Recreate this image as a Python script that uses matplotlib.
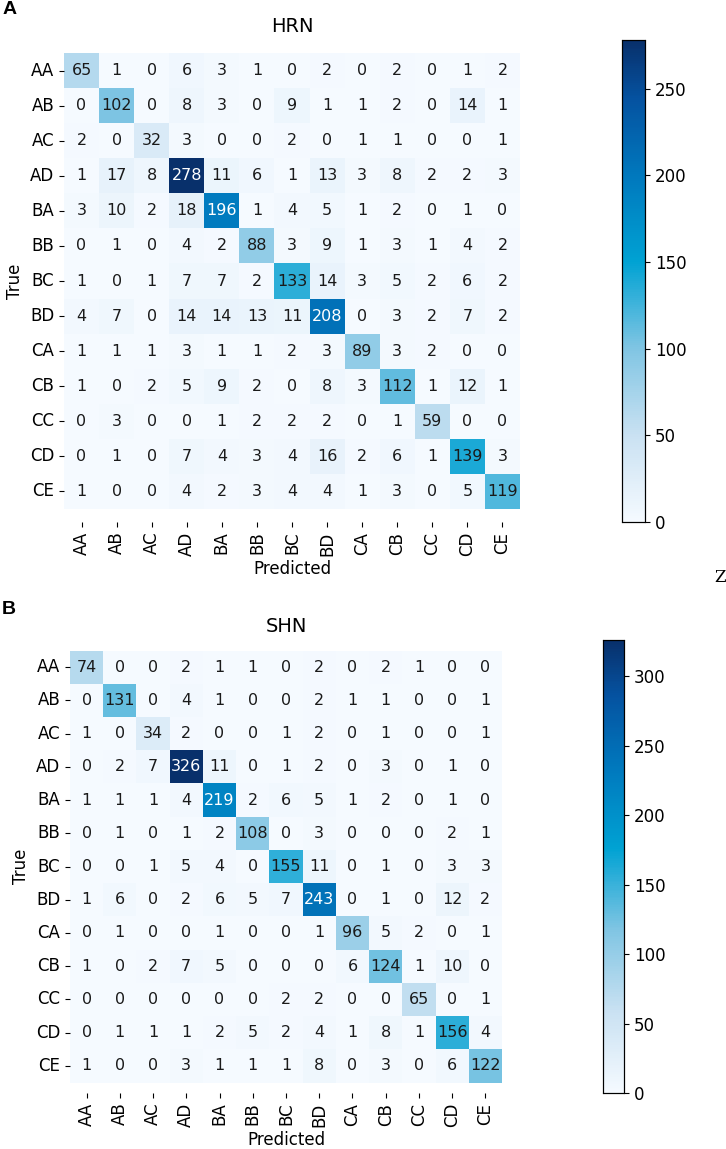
import matplotlib
matplotlib.use("Agg")
import matplotlib.pyplot as plt
from matplotlib.colors import LinearSegmentedColormap
import numpy as np
import seaborn as sns

labels = ["AA", "AB", "AC", "AD", "BA", "BB", "BC", "BD", "CA", "CB", "CC", "CD", "CE"]

hrn = [
    [65, 1, 0, 6, 3, 1, 0, 2, 0, 2, 0, 1, 2],
    [0, 102, 0, 8, 3, 0, 9, 1, 1, 2, 0, 14, 1],
    [2, 0, 32, 3, 0, 0, 2, 0, 1, 1, 0, 0, 1],
    [1, 17, 8, 278, 11, 6, 1, 13, 3, 8, 2, 2, 3],
    [3, 10, 2, 18, 196, 1, 4, 5, 1, 2, 0, 1, 0],
    [0, 1, 0, 4, 2, 88, 3, 9, 1, 3, 1, 4, 2],
    [1, 0, 1, 7, 7, 2, 133, 14, 3, 5, 2, 6, 2],
    [4, 7, 0, 14, 14, 13, 11, 208, 0, 3, 2, 7, 2],
    [1, 1, 1, 3, 1, 1, 2, 3, 89, 3, 2, 0, 0],
    [1, 0, 2, 5, 9, 2, 0, 8, 3, 112, 1, 12, 1],
    [0, 3, 0, 0, 1, 2, 2, 2, 0, 1, 59, 0, 0],
    [0, 1, 0, 7, 4, 3, 4, 16, 2, 6, 1, 139, 3],
    [1, 0, 0, 4, 2, 3, 4, 4, 1, 3, 0, 5, 119],
]

shn = [
    [74, 0, 0, 2, 1, 1, 0, 2, 0, 2, 1, 0, 0],
    [0, 131, 0, 4, 1, 0, 0, 2, 1, 1, 0, 0, 1],
    [1, 0, 34, 2, 0, 0, 1, 2, 0, 1, 0, 0, 1],
    [0, 2, 7, 326, 11, 0, 1, 2, 0, 3, 0, 1, 0],
    [1, 1, 1, 4, 219, 2, 6, 5, 1, 2, 0, 1, 0],
    [0, 1, 0, 1, 2, 108, 0, 3, 0, 0, 0, 2, 1],
    [0, 0, 1, 5, 4, 0, 155, 11, 0, 1, 0, 3, 3],
    [1, 6, 0, 2, 6, 5, 7, 243, 0, 1, 0, 12, 2],
    [0, 1, 0, 0, 1, 0, 0, 1, 96, 5, 2, 0, 1],
    [1, 0, 2, 7, 5, 0, 0, 0, 6, 124, 1, 10, 0],
    [0, 0, 0, 0, 0, 0, 2, 2, 0, 0, 65, 0, 1],
    [0, 1, 1, 1, 2, 5, 2, 4, 1, 8, 1, 156, 4],
    [1, 0, 0, 3, 1, 1, 1, 8, 0, 3, 0, 6, 122],
]

cmap = LinearSegmentedColormap.from_list(
    "custom_blues",
    [(0.0, "#f5faff"), (0.18, "#c9e1f2"), (0.36, "#80c5e3"),
     (0.54, "#00a2d3"), (0.72, "#0078bd"), (0.88, "#0552a0"), (1.0, "#08306b")])

W, H = 726, 1149
fig = plt.figure(figsize=(W / 100, H / 100), dpi=100)


def fx(px):
    return px / W


def fy(py):
    return 1 - py / H


def panel(data, title, ax_px, cax_px):
    x0, x1, y0, y1 = ax_px
    cx0, cx1 = cax_px
    ax = fig.add_axes([fx(x0), fy(y1), fx(x1) - fx(x0), fy(y0) - fy(y1)])
    cax = fig.add_axes([fx(cx0), fy(y1), fx(cx1) - fx(cx0), fy(y0) - fy(y1)])
    arr = np.array(data)
    sns.heatmap(arr, annot=True, fmt="d", cmap=cmap, square=True,
                xticklabels=labels, yticklabels=labels, ax=ax, cbar_ax=cax,
                annot_kws={"size": 11.5})
    ax.set_aspect("equal", adjustable="datalim")
    thresh = (arr.max() + arr.min()) / 2
    for t in ax.texts:
        v = int(t.get_text())
        t.set_color("white" if v > thresh else "#1a1a1a")
    ax.set_title(title, fontsize=14, pad=6)
    ax.set_xlabel("Predicted", fontsize=12, labelpad=3)
    ax.set_ylabel("True", fontsize=12)
    ax.tick_params(axis="both", labelsize=12)
    ax.set_yticklabels(labels, rotation=0)
    ax.set_xticklabels(labels, rotation=90)
    cax.tick_params(labelsize=12)
    for s in cax.spines.values():
        s.set_visible(True)
        s.set_linewidth(0.8)
    return ax


panel(hrn, "HRN", (64, 520, 40, 522), (622, 645))
panel(shn, "SHN", (70, 502, 640, 1093), (603, 624))

fig.text(fx(3), fy(10), "A", fontsize=14, fontweight="bold", va="center", ha="left",
         family="Liberation Sans")
fig.text(fx(2), fy(610), "B", fontsize=14, fontweight="bold", va="center", ha="left",
         family="Liberation Sans")
fig.text(fx(714), fy(577), "Z", fontsize=12, va="center", ha="left", family="DejaVu Serif")

fig.savefig("out.png", dpi=100)
